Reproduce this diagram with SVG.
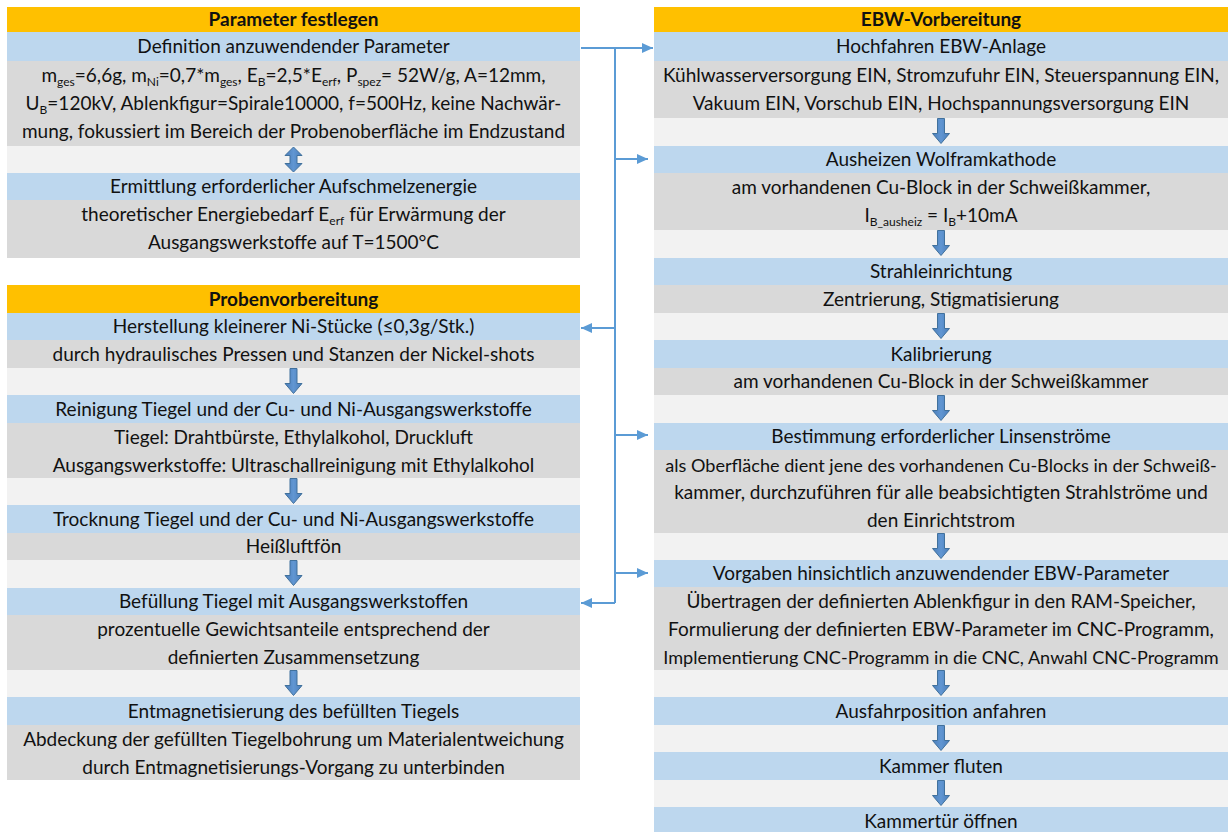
<svg xmlns="http://www.w3.org/2000/svg" xmlns:xlink="http://www.w3.org/1999/xlink" width="1231" height="832" viewBox="0 0 1231 832">
<style>
.hd{fill:#FFC000}
.bl{fill:#BDD7EE}
.gr{fill:#D9D9D9}
.sp{fill:#F2F2F2}
text{font-family:Lato,"Open Sans","Liberation Sans",sans-serif;font-size:19px;fill:#111;text-anchor:middle}
text.b{font-weight:bold}
text.nw{font-size:18.1px}
.sub{font-size:12px}
.con{fill:none;stroke:#5B9BD5;stroke-width:2}
.blk{fill:url(#ag);stroke:#41719C;stroke-width:1}
</style>
<defs>
<linearGradient id="ag" x1="0" y1="0" x2="1" y2="0">
<stop offset="0" stop-color="#4A7DBA"/>
<stop offset="0.5" stop-color="#6196D2"/>
<stop offset="1" stop-color="#4A7DBA"/>
</linearGradient>
<marker id="ah" markerUnits="userSpaceOnUse" markerWidth="12" markerHeight="12" refX="11" refY="6" orient="auto">
<path d="M0,1 L11,6 L0,11 z" fill="#5B9BD5"/>
</marker>
<path id="darr" d="M-3.5,0 L3.5,0 L3.5,15 L8.5,15 L0,25 L-8.5,15 L-3.5,15 z"/>
<path id="dbl" d="M0,0 L8.5,8.5 L3.5,8.5 L3.5,16.5 L8.5,16.5 L0,25 L-8.5,16.5 L-3.5,16.5 L-3.5,8.5 L-8.5,8.5 z"/>
</defs>

<!-- Left column: Parameter festlegen -->
<g id="hdr-parameter">
<rect class="hd" x="7" y="7" width="573" height="25"/>
<text class="b" x="293.5" y="26">Parameter festlegen</text>
</g>
<g id="node-definition">
<rect class="bl" x="7" y="32" width="573" height="29"/>
<rect class="gr" x="7" y="61" width="573" height="85"/>
<text x="293.5" y="53">Definition anzuwendender Parameter</text>
<text x="293.5" y="82">m<tspan class="sub" dy="4">ges</tspan><tspan dy="-4">=6,6g, m</tspan><tspan class="sub" dy="4">Ni</tspan><tspan dy="-4">=0,7*m</tspan><tspan class="sub" dy="4">ges</tspan><tspan dy="-4">, E</tspan><tspan class="sub" dy="4">B</tspan><tspan dy="-4">=2,5*E</tspan><tspan class="sub" dy="4">erf</tspan><tspan dy="-4">, P</tspan><tspan class="sub" dy="4">spez</tspan><tspan dy="-4">= 52W/g, A=12mm,</tspan></text>
<text x="293.5" y="110">U<tspan class="sub" dy="4">B</tspan><tspan dy="-4">=120kV, Ablenkfigur=Spirale10000, f=500Hz, keine Nachwär-</tspan></text>
<text x="293.5" y="138">mung, fokussiert im Bereich der Probenoberfläche im Endzustand</text>
</g>
<g id="sp-l1"><rect class="sp" x="7" y="146" width="573" height="27"/></g>
<g id="node-ermittlung">
<rect class="bl" x="7" y="173" width="573" height="27"/>
<rect class="gr" x="7" y="200" width="573" height="58"/>
<text x="293.5" y="193">Ermittlung erforderlicher Aufschmelzenergie</text>
<text x="293.5" y="221">theoretischer Energiebedarf E<tspan class="sub" dy="4">erf</tspan><tspan dy="-4"> für Erwärmung der</tspan></text>
<text x="293.5" y="249">Ausgangswerkstoffe auf T=1500°C</text>
</g>

<!-- Left column: Probenvorbereitung -->
<g id="hdr-proben">
<rect class="hd" x="7" y="285" width="573" height="28"/>
<text class="b" x="293.5" y="305.5">Probenvorbereitung</text>
</g>
<g id="node-herstellung">
<rect class="bl" x="7" y="313" width="573" height="27"/>
<rect class="gr" x="7" y="340" width="573" height="28"/>
<text x="293.5" y="333">Herstellung kleinerer Ni-Stücke (≤0,3g/Stk.)</text>
<text x="293.5" y="360.5">durch hydraulisches Pressen und Stanzen der Nickel-shots</text>
</g>
<g id="sp-l2"><rect class="sp" x="7" y="368" width="573" height="27"/></g>
<g id="node-reinigung">
<rect class="bl" x="7" y="395" width="573" height="28"/>
<rect class="gr" x="7" y="423" width="573" height="55"/>
<text x="293.5" y="415.5">Reinigung Tiegel und der Cu- und Ni-Ausgangswerkstoffe</text>
<text x="293.5" y="443.5">Tiegel: Drahtbürste, Ethylalkohol, Druckluft</text>
<text x="293.5" y="471.5">Ausgangswerkstoffe: Ultraschallreinigung mit Ethylalkohol</text>
</g>
<g id="sp-l3"><rect class="sp" x="7" y="478" width="573" height="27"/></g>
<g id="node-trocknung">
<rect class="bl" x="7" y="505" width="573" height="28"/>
<rect class="gr" x="7" y="533" width="573" height="27"/>
<text x="293.5" y="525.5">Trocknung Tiegel und der Cu- und Ni-Ausgangswerkstoffe</text>
<text x="293.5" y="553">Heißluftfön</text>
</g>
<g id="sp-l4"><rect class="sp" x="7" y="560" width="573" height="28"/></g>
<g id="node-befuellung">
<rect class="bl" x="7" y="588" width="573" height="27"/>
<rect class="gr" x="7" y="615" width="573" height="55"/>
<text x="293.5" y="608">Befüllung Tiegel mit Ausgangswerkstoffen</text>
<text x="293.5" y="636">prozentuelle Gewichtsanteile entsprechend der</text>
<text x="293.5" y="663.5">definierten Zusammensetzung</text>
</g>
<g id="sp-l5"><rect class="sp" x="7" y="670" width="573" height="27"/></g>
<g id="node-entmagnetisierung">
<rect class="bl" x="7" y="697" width="573" height="28"/>
<rect class="gr" x="7" y="725" width="573" height="55"/>
<text x="293.5" y="717.5">Entmagnetisierung des befüllten Tiegels</text>
<text x="293.5" y="746">Abdeckung der gefüllten Tiegelbohrung um Materialentweichung</text>
<text x="293.5" y="774">durch Entmagnetisierungs-Vorgang zu unterbinden</text>
</g>

<!-- Right column: EBW-Vorbereitung -->
<g id="hdr-ebw">
<rect class="hd" x="654" y="7" width="574" height="25"/>
<text class="b" x="941" y="26">EBW-Vorbereitung</text>
</g>
<g id="node-hochfahren">
<rect class="bl" x="654" y="32" width="574" height="29"/>
<rect class="gr" x="654" y="61" width="574" height="57"/>
<text x="941" y="53">Hochfahren EBW-Anlage</text>
<text x="941" y="82">Kühlwasserversorgung EIN, Stromzufuhr EIN, Steuerspannung EIN,</text>
<text x="941" y="110">Vakuum EIN, Vorschub EIN, Hochspannungsversorgung EIN</text>
</g>
<g id="sp-r1"><rect class="sp" x="654" y="118" width="574" height="28"/></g>
<g id="node-ausheizen">
<rect class="bl" x="654" y="146" width="574" height="27"/>
<rect class="gr" x="654" y="173" width="574" height="57"/>
<text x="941" y="166">Ausheizen Wolframkathode</text>
<text x="941" y="194">am vorhandenen Cu-Block in der Schweißkammer,</text>
<text x="941" y="222">I<tspan class="sub" dy="4">B_ausheiz</tspan><tspan dy="-4"> = I</tspan><tspan class="sub" dy="4">B</tspan><tspan dy="-4">+10mA</tspan></text>
</g>
<g id="sp-r2"><rect class="sp" x="654" y="230" width="574" height="28"/></g>
<g id="node-strahleinrichtung">
<rect class="bl" x="654" y="258" width="574" height="27"/>
<rect class="gr" x="654" y="285" width="574" height="28"/>
<text x="941" y="278">Strahleinrichtung</text>
<text x="941" y="305.5">Zentrierung, Stigmatisierung</text>
</g>
<g id="sp-r3"><rect class="sp" x="654" y="313" width="574" height="27"/></g>
<g id="node-kalibrierung">
<rect class="bl" x="654" y="340" width="574" height="28"/>
<rect class="gr" x="654" y="368" width="574" height="27"/>
<text x="941" y="360.5">Kalibrierung</text>
<text x="941" y="388">am vorhandenen Cu-Block in der Schweißkammer</text>
</g>
<g id="sp-r4"><rect class="sp" x="654" y="395" width="574" height="28"/></g>
<g id="node-bestimmung">
<rect class="bl" x="654" y="423" width="574" height="27"/>
<rect class="gr" x="654" y="450" width="574" height="83"/>
<text x="941" y="443">Bestimmung erforderlicher Linsenströme</text>
<text class="nw" x="941" y="471.5">als Oberfläche dient jene des vorhandenen Cu-Blocks in der Schweiß-</text>
<text x="941" y="499">kammer, durchzuführen für alle beabsichtigten Strahlströme und</text>
<text x="941" y="526.5">den Einrichtstrom</text>
</g>
<g id="sp-r5"><rect class="sp" x="654" y="533" width="574" height="27"/></g>
<g id="node-vorgaben">
<rect class="bl" x="654" y="560" width="574" height="27"/>
<rect class="gr" x="654" y="587" width="574" height="83"/>
<text x="941" y="580">Vorgaben hinsichtlich anzuwendender EBW-Parameter</text>
<text x="941" y="608">Übertragen der definierten Ablenkfigur in den RAM-Speicher,</text>
<text x="941" y="636">Formulierung der definierten EBW-Parameter im CNC-Programm,</text>
<text class="nw" x="941" y="663.5">Implementierung CNC-Programm in die CNC, Anwahl CNC-Programm</text>
</g>
<g id="sp-r6"><rect class="sp" x="654" y="670" width="574" height="27"/></g>
<g id="node-ausfahrposition">
<rect class="bl" x="654" y="697" width="574" height="28"/>
<text x="941" y="717.5">Ausfahrposition anfahren</text>
</g>
<g id="sp-r7"><rect class="sp" x="654" y="725" width="574" height="27"/></g>
<g id="node-fluten">
<rect class="bl" x="654" y="752" width="574" height="28"/>
<text x="941" y="772.5">Kammer fluten</text>
</g>
<g id="sp-r8"><rect class="sp" x="654" y="780" width="574" height="27"/></g>
<g id="node-kammertuer">
<rect class="bl" x="654" y="807" width="574" height="27"/>
<text x="941" y="828">Kammertür öffnen</text>
</g>

<!-- Connectors -->
<g id="connectors">
<path class="con" d="M581,48 H653" marker-end="url(#ah)"/>
<path class="con" d="M615,48 V603"/>
<path class="con" d="M615,159 H648" marker-end="url(#ah)"/>
<path class="con" d="M615,435 H648" marker-end="url(#ah)"/>
<path class="con" d="M615,573 H648" marker-end="url(#ah)"/>
<path class="con" d="M615,328 H581" marker-end="url(#ah)"/>
<path class="con" d="M615,603 H581" marker-end="url(#ah)"/>
<use xlink:href="#dbl" class="blk" x="293.5" y="147"/>
<use xlink:href="#darr" class="blk" x="293.5" y="368.5"/>
<use xlink:href="#darr" class="blk" x="293.5" y="478.5"/>
<use xlink:href="#darr" class="blk" x="293.5" y="560.5"/>
<use xlink:href="#darr" class="blk" x="293.5" y="670.5"/>
<use xlink:href="#darr" class="blk" x="941" y="118.5"/>
<use xlink:href="#darr" class="blk" x="941" y="230.5"/>
<use xlink:href="#darr" class="blk" x="941" y="313.5"/>
<use xlink:href="#darr" class="blk" x="941" y="395.5"/>
<use xlink:href="#darr" class="blk" x="941" y="533.5"/>
<use xlink:href="#darr" class="blk" x="941" y="670.5"/>
<use xlink:href="#darr" class="blk" x="941" y="725.5"/>
<use xlink:href="#darr" class="blk" x="941" y="780.5"/>
</g>
</svg>
